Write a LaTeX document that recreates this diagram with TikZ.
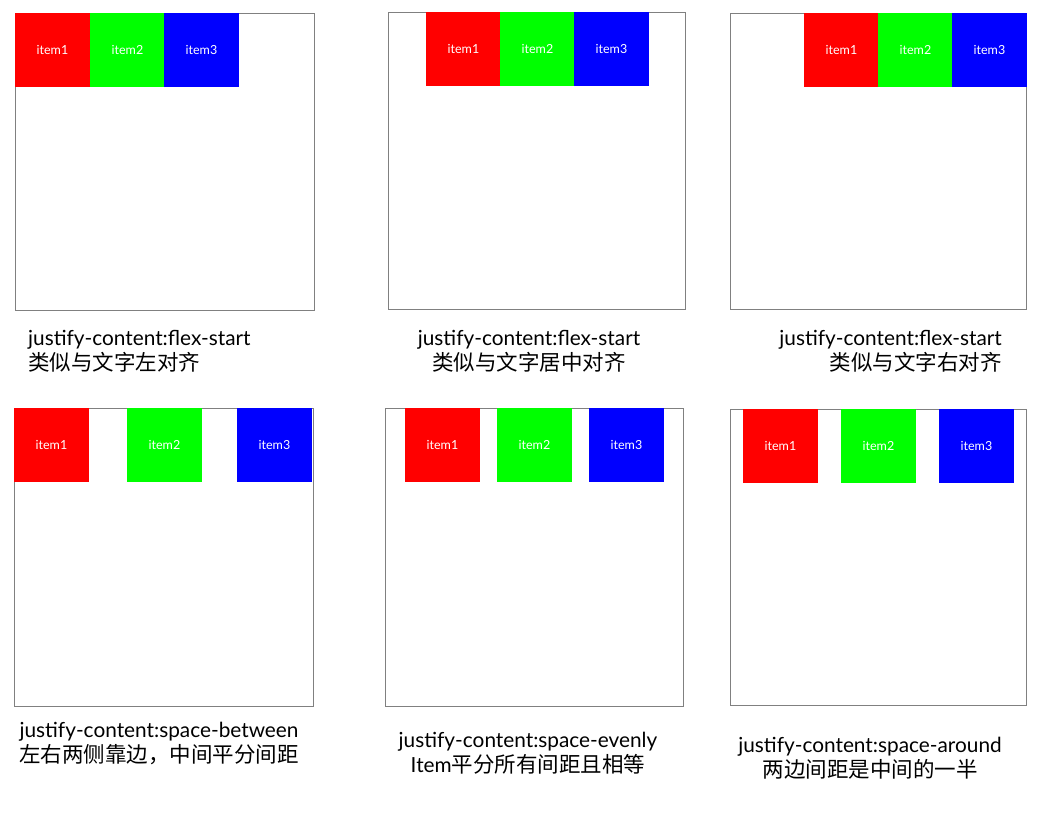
\documentclass[tikz,border=0pt]{standalone}
\usepackage{fontspec}
\setmainfont{Lato}
\newfontfamily\cjk{Noto Sans CJK SC}
\usetikzlibrary{positioning}

\newcommand\zh{\cjk\fontsize{21.5}{25}\selectfont}

\tikzset{
    panel/.style 2 args={draw=gray, line width=1pt, anchor=north west, inner sep=0pt,
        minimum width=#1pt, minimum height=#2pt},
    item/.style={fill=#1, text=white, anchor=north west, inner sep=0pt,
        minimum width=74.5pt, minimum height=74pt, font=\fontsize{12.5}{14}\selectfont},
    caption/.style={inner sep=0pt, font=\fontsize{20.8}{25}\selectfont}
}

\begin{document}
\begin{tikzpicture}[x=1pt, y=-1pt]
    \useasboundingbox[fill=white] (0,0) rectangle (1044,821);
    % containers
    \node[panel={299}{297}] (p1) at (15,13) {};
    \node[panel={297}{297}] (p2) at (388,12) {};
    \node[panel={296}{296}] (p3) at (730,13) {};
    \node[panel={299}{298}] (p4) at (14,408) {};
    \node[panel={298}{298}] (p5) at (385,408) {};
    \node[panel={296}{296}] (p6) at (730,409) {};
    % flex items
    \foreach \p/\a/\b/\c in {1/15/90/164, 2/426/500/574, 3/804/878/952,
                             4/14/127/237, 5/405/497/589, 6/743/841/939} {
        \node[item=red] (r\p) at (\a, 0 |- p\p.north) {item1};
        \node[item=green] (g\p) at (\b, 0 |- p\p.north) {item2};
        \node[item=blue] (b\p) at (\c, 0 |- p\p.north) {item3};
    }
    % captions (anchor = baseline of the second line)
    \node[caption, align=left, anchor=base west] (t1) at (28,370)
        {justify-content:flex-start\\\zh 类似与文字左对齐};
    \node[caption, align=center, anchor=base] (t2) at (529,370)
        {justify-content:flex-start\\\zh 类似与文字居中对齐};
    \node[caption, align=right, anchor=base east] (t3) at (1002,370)
        {justify-content:flex-start\\\zh 类似与文字右对齐};
    \node[caption, align=center, anchor=base] (t4) at (159,762)
        {justify-content:space-between\\\zh 左右两侧靠边，中间平分间距};
    \node[caption, align=center, anchor=base] (t5) at (528,772)
        {justify-content:space-evenly\\Item{\zh 平分所有间距且相等}};
    \node[caption, align=center, anchor=base] (t6) at (870,777)
        {justify-content:space-around\\\zh 两边间距是中间的一半};
\end{tikzpicture}
\end{document}
